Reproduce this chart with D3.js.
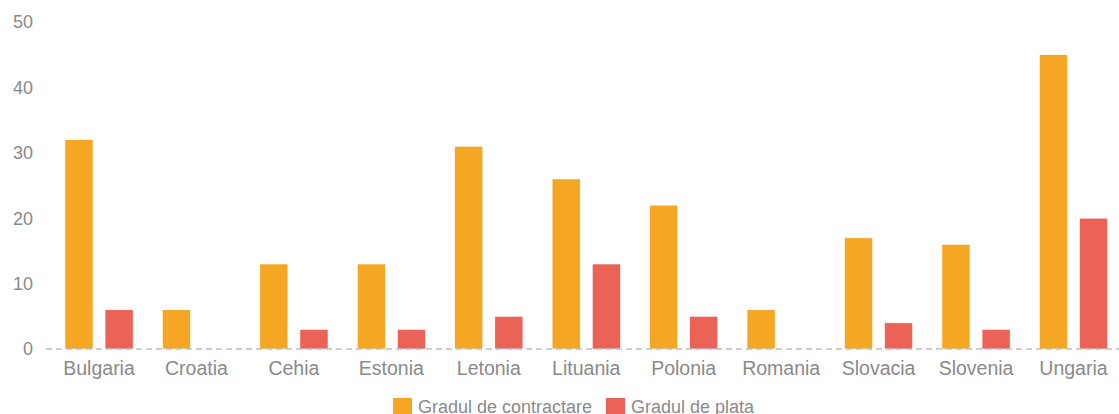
<!DOCTYPE html>
<html>
<head>
<meta charset="utf-8">
<script src="https://cdn.jsdelivr.net/npm/d3@7"></script>
<style>
  body { margin: 0; background: #fff; }
  svg text { font-family: "Liberation Sans", Arial, sans-serif; fill: #8a8a8a; }
</style>
</head>
<body>
<div id="chart"></div>
<script>
// data
var countries = ["Bulgaria", "Croatia", "Cehia", "Estonia", "Letonia", "Lituania",
                 "Polonia", "Romania", "Slovacia", "Slovenia", "Ungaria"];
var seriesNames = ["Gradul de contractare", "Gradul de plata"];
var contractare = [32, 6, 13, 13, 31, 26, 22, 6, 17, 16, 45];
var plata = [6, 0, 3, 3, 5, 13, 5, 0, 4, 3, 20];
var yTicks = [0, 10, 20, 30, 40, 50];
var colors = ["#f5a623", "#eb6256"];

var width = 1119, height = 414;

var svg = d3.select("#chart").append("svg")
    .attr("width", width)
    .attr("height", height);

var rows = countries.map(function(c, i) {
    return { name: c, values: [contractare[i], plata[i]] };
});

// scales
var x0 = d3.scaleBand().domain(countries).range([50.3, 1122.2])
    .paddingInner(0.3).paddingOuter(0.15);
var x1 = d3.scaleBand().domain([0, 1]).range([0, x0.bandwidth()]).paddingInner(0.3);
var y = d3.scaleLinear().domain([0, 50]).range([349, 22]);

// y labels (no axis line)
svg.append("g").selectAll("text")
    .data(yTicks)
    .enter().append("text")
    .attr("x", 33)
    .attr("y", function(d) { return y(d); })
    .attr("dy", "0.35em")
    .attr("text-anchor", "end")
    .style("font-size", "18px")
    .text(function(d) { return d; });

// bars
var groups = svg.append("g").selectAll("g")
    .data(rows)
    .enter().append("g")
    .attr("transform", function(d) { return "translate(" + x0(d.name) + ",0)"; });

groups.selectAll("rect")
    .data(function(d) { return d.values.map(function(v, k) { return { k: k, v: v }; }); })
    .enter().append("rect")
    .filter(function(d) { return d.v > 0; })
    .attr("x", function(d) { return x1(d.k); })
    .attr("y", function(d) { return y(d.v); })
    .attr("width", x1.bandwidth())
    .attr("height", function(d) { return y(0) - y(d.v); })
    .attr("fill", function(d) { return colors[d.k]; })
    .attr("stroke", "#fff")
    .attr("stroke-width", 0.6);

// dashed baseline
svg.append("line")
    .attr("x1", 46).attr("x2", width)
    .attr("y1", y(0)).attr("y2", y(0))
    .attr("stroke", "#bdbdbd")
    .attr("stroke-width", 1.5)
    .attr("stroke-dasharray", "6,4");

// category labels
var xAxis = d3.axisBottom(x0).tickSize(0).tickPadding(0);
var gx = svg.append("g")
    .attr("transform", "translate(0," + y(0) + ")")
    .call(xAxis);
gx.select(".domain").remove();
gx.selectAll("text")
    .attr("y", 26)
    .attr("dy", 0)
    .style("font-size", "19.5px")
    .style("font-family", "'Liberation Sans', Arial, sans-serif")
    .attr("fill", "#8a8a8a");

// legend
var legendX = [393, 606];
var legend = svg.append("g").selectAll("g")
    .data(seriesNames)
    .enter().append("g")
    .attr("transform", function(d, i) { return "translate(" + legendX[i] + ",398)"; });
legend.append("rect")
    .attr("width", 19).attr("height", 19)
    .attr("fill", function(d, i) { return colors[i]; });
legend.append("text")
    .attr("x", 25)
    .attr("y", 15)
    .style("font-size", "18px")
    .text(function(d) { return d; });
</script>
</body>
</html>
